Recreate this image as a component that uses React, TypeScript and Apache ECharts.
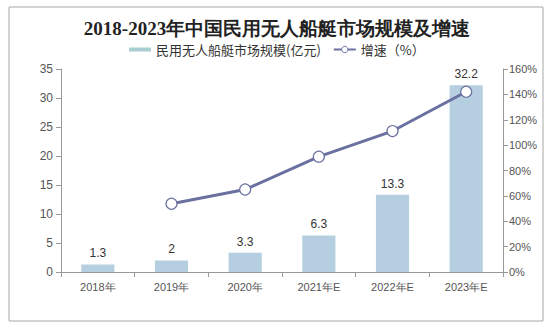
import React, { useEffect, useRef } from "react";
import * as echarts from "echarts";

const categories = ["2018年", "2019年", "2020年", "2021年E", "2022年E", "2023年E"];
const marketSize = [1.3, 2, 3.3, 6.3, 13.3, 32.2];
const growth = [null, 53.8, 65, 90.9, 111.1, 142.1];
const leftTicks = { min: 0, max: 35, interval: 5 };
const rightTicks = { min: 0, max: 160, interval: 20 };

export default function App() {
  const ref = useRef<HTMLDivElement>(null);
  useEffect(() => {
    if (!ref.current) return;
    const chart = echarts.init(ref.current, null, { renderer: "svg" });
    const axisFont = { fontFamily: "Liberation Sans, Arial, sans-serif", fontSize: 11, color: "#555" };
    chart.setOption({
      animation: false,
      backgroundColor: "#fff",
      title: {
        text: "2018-2023年中国民用无人船艇市场规模及增速",
        left: "center",
        top: 14,
        textStyle: {
          fontFamily: "Liberation Serif, Times New Roman, serif",
          fontSize: 19,
          fontWeight: "bold",
          color: "#222",
        },
      },
      legend: {
        top: 38,
        left: 124,
        itemGap: 12,
        textStyle: { fontFamily: "Noto Sans CJK SC, sans-serif", fontSize: 13, color: "#333" },
        data: [
          {
            name: "民用无人船艇市场规模(亿元)",
            icon: "path://M0,0 L0.01,0 L0,0.01 Z M0,2 L22,2 L22,6 L0,6 Z M22,8 L21.99,8 L22,7.99 Z",
            itemStyle: { color: "#a9cdd2" },
          },
          {
            name: "增速（%）",
            itemStyle: { color: "#fff", borderColor: "#6a71a0", borderWidth: 1 },
            lineStyle: { width: 2 },
          },
        ],
        itemWidth: 22,
        itemHeight: 8,
      },
      graphic: [
        {
          type: "rect",
          shape: { x: 9, y: 7, width: 534, height: 314 },
          style: { fill: "none", stroke: "#a8a8a8", lineWidth: 1 },
          silent: true,
        },
      ],
      grid: { left: 61, right: 51, top: 69, bottom: 56 },
      xAxis: {
        type: "category",
        data: categories,
        axisLine: { lineStyle: { color: "#999" } },
        axisTick: { show: true, alignWithLabel: false, length: 5, lineStyle: { color: "#999" } },
        axisLabel: { ...axisFont, margin: 9 },
      },
      yAxis: [
        {
          type: "value",
          ...leftTicks,
          position: "left",
          axisLine: { show: true, lineStyle: { color: "#999" } },
          axisTick: { show: true, length: 5, lineStyle: { color: "#999" } },
          splitLine: { show: false },
          axisLabel: { ...axisFont, fontSize: 12, margin: 8 },
        },
        {
          type: "value",
          ...rightTicks,
          position: "right",
          axisLine: { show: true, lineStyle: { color: "#999" } },
          axisTick: { show: true, length: 5, lineStyle: { color: "#999" } },
          splitLine: { show: false },
          axisLabel: { ...axisFont, formatter: "{value}%", margin: 6 },
        },
      ],
      series: [
        {
          name: "民用无人船艇市场规模(亿元)",
          type: "bar",
          data: marketSize,
          barWidth: "45%",
          itemStyle: { color: "#b5cfe0" },
          label: {
            show: true,
            position: "top",
            distance: 5,
            fontFamily: "Liberation Sans, Arial, sans-serif",
            fontSize: 12,
            color: "#333",
          },
        },
        {
          name: "增速（%）",
          type: "line",
          yAxisIndex: 1,
          data: growth,
          symbol: "circle",
          symbolSize: 11,
          lineStyle: { color: "#6a71a0", width: 3 },
          itemStyle: { color: "#fff", borderColor: "#6a71a0", borderWidth: 1.2 },
        },
      ],
    });
    return () => chart.dispose();
  }, []);
  return (
    <div
      ref={ref}
      style={{ position: "absolute", left: 0, top: 0, width: 554, height: 328 }}
    />
  );
}
